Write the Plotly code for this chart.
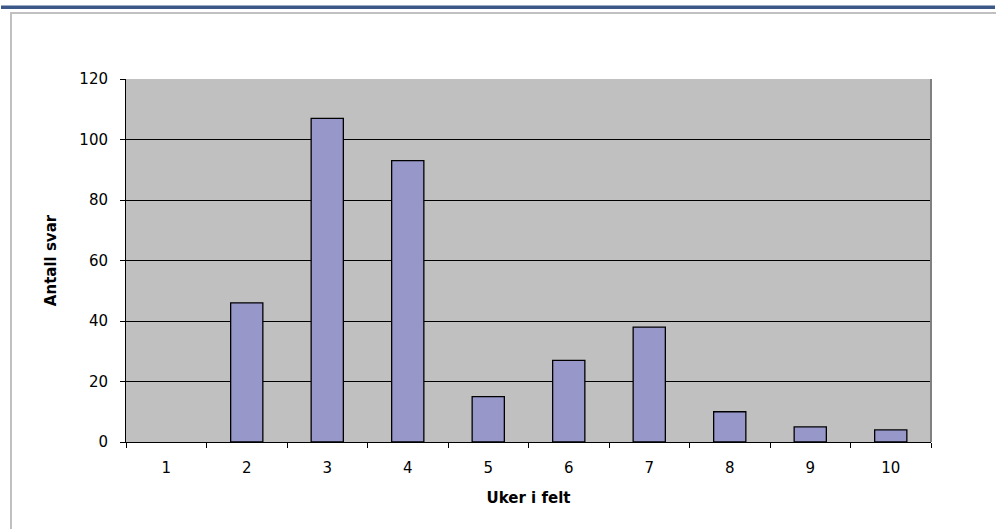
import plotly.graph_objects as go

# survey answers per number of weeks in the field
weeks = ["1", "2", "3", "4", "5", "6", "7", "8", "9", "10"]
answers = [0, 46, 107, 93, 15, 27, 38, 10, 5, 4]

W, H = 996, 529
L, R, T, B = 126, 65, 79, 87
pw, ph = W - L - R, H - T - B


def px(x):
    return (x - L) / pw


def py(y):
    return (H - B - y) / ph


fig = go.Figure(go.Bar(
    x=weeks, y=answers,
    marker=dict(color="#9797CA",
                line=dict(color="#000000",
                          width=[1.3 if v else 0 for v in answers])),
    width=0.4, hoverinfo="x+y"))

# page decoration around the chart (report header rule + frame)
frame = [
    dict(x0=px(1), x1=px(995), y0=py(7.2), y1=py(7.2), color="#3B5888", width=3.5),
    dict(x0=px(10), x1=px(997), y0=py(13), y1=py(13), color="#C0C0C0", width=2),
    dict(x0=px(11), x1=px(11), y0=py(12), y1=py(530), color="#C0C0C0", width=2),
    dict(x0=1, x1=1, y0=0, y1=1, color="#808080", width=2),
]
for f in frame:
    fig.add_shape(type="line", xref="paper", yref="paper",
                  x0=f["x0"], x1=f["x1"], y0=f["y0"], y1=f["y1"],
                  line=dict(color=f["color"], width=f["width"]))

font = "DejaVu Sans, Arial, sans-serif"
fig.update_layout(
    width=W, height=H, margin=dict(l=L, r=R, t=T, b=B),
    paper_bgcolor="white", plot_bgcolor="#C0C0C0",
    showlegend=False, font=dict(family=font, size=15, color="#000000"),
    xaxis=dict(type="category", tickson="boundaries", ticks="outside",
               ticklen=5, tickcolor="#000000", showline=True,
               linecolor="#000000", linewidth=1, showgrid=False,
               ticklabelstandoff=12,
               title=dict(text="<b>Uker i felt</b>", standoff=16,
                          font=dict(size=15, family=font))),
    yaxis=dict(range=[0, 120], dtick=20, ticks="outside", ticklen=5,
               tickcolor="#000000", showline=True, linecolor="#000000",
               linewidth=1, gridcolor="#000000", gridwidth=1,
               zeroline=False, ticklabelstandoff=9,
               title=dict(text="<b>Antall svar</b>", standoff=19,
                          font=dict(size=15, family=font))),
)

fig.write_html("out.html", config={"displayModeBar": False})

# the page is photographed as is; drop the browser's default body margin
with open("out.html", encoding="utf-8") as fh:
    page = fh.read()
page = page.replace("<body>", '<body style="margin:0">', 1)
with open("out.html", "w", encoding="utf-8") as fh:
    fh.write(page)
